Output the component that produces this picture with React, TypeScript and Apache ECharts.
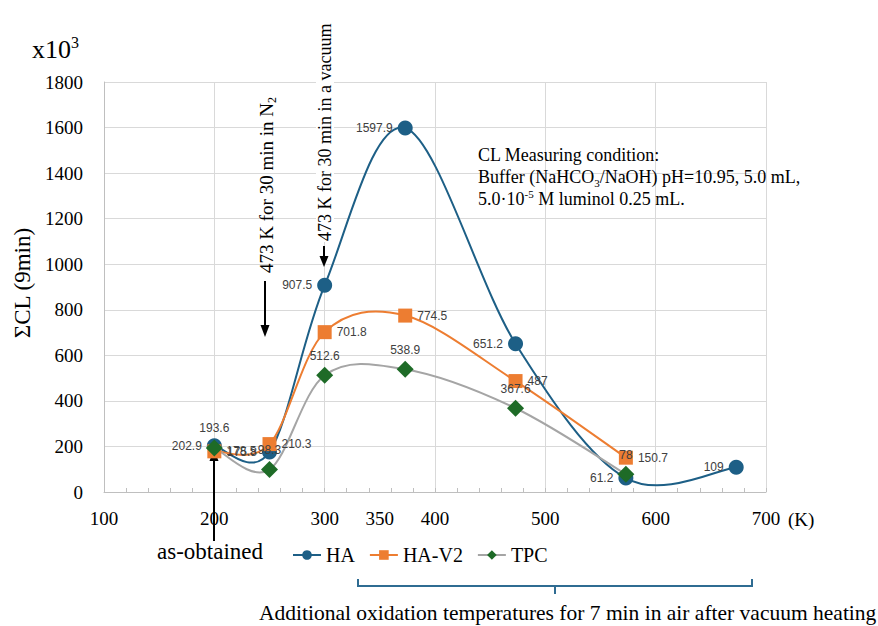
import React, { useEffect, useRef } from 'react';
import * as echarts from 'echarts';

// ---- data ----
const haTemps = [200, 250, 300, 373, 473, 573, 673];
const haValues = [202.9, 175.8, 907.5, 1597.9, 651.2, 61.2, 109];
const haV2Temps = [200, 250, 300, 373, 473, 573];
const haV2Values = [178.5, 210.3, 701.8, 774.5, 487, 150.7];
const tpcTemps = [200, 250, 300, 373, 473, 573];
const tpcValues = [193.6, 98.3, 512.6, 538.9, 367.6, 78];
const seriesNames = ['HA', 'HA-V2', 'TPC'];
const extraXTick = 350;

const SERIF = "'Liberation Serif', 'Times New Roman', serif";
const SANS = "'Liberation Sans', Arial, sans-serif";
const BLUE = '#1d5f86';
const ORANGE = '#ed7d31';
const GRAY = '#a5a5a5';
const GREEN = '#1e6b27';

function pairs(xs: number[], ys: number[]) {
  return xs.map((x, i) => [x, ys[i]]);
}

function dataLabel(pos: string) {
  return {
    show: true,
    position: pos,
    distance: 5,
    fontSize: 12,
    fontFamily: SANS,
    color: '#404040',
    formatter: (p: any) => String(p.value[1]),
  };
}

// Smoothed (cardinal spline) curve through the data points, drawn through the axis scales
function curveSeries(xs: number[], ys: number[], color: string) {
  const data = pairs(xs, ys);
  const n = data.length;
  return {
    type: 'custom',
    silent: true,
    encode: { x: 0, y: 1 },
    data,
    renderItem: (params: any, api: any) => {
      const i = params.dataIndex;
      if (i >= n - 1) return { type: 'group', children: [] };
      const pt = (k: number) => api.coord(data[Math.max(0, Math.min(n - 1, k))]);
      const p0 = pt(i - 1);
      const p1 = pt(i);
      const p2 = pt(i + 1);
      const p3 = pt(i + 2);
      const t = 1 / 6;
      return {
        type: 'bezierCurve',
        shape: {
          x1: p1[0],
          y1: p1[1],
          x2: p2[0],
          y2: p2[1],
          cpx1: p1[0] + (p2[0] - p0[0]) * t,
          cpy1: p1[1] + (p2[1] - p0[1]) * t,
          cpx2: p2[0] - (p3[0] - p1[0]) * t,
          cpy2: p2[1] - (p3[1] - p1[1]) * t,
        },
        style: { stroke: color, lineWidth: 2, fill: null },
      };
    },
  };
}

function arrow(x1: number, y1: number, x2: number, y2: number, head = 12, half = 4.5, z = 100) {
  const dx = x2 - x1;
  const dy = y2 - y1;
  const len = Math.sqrt(dx * dx + dy * dy);
  const ux = dx / len;
  const uy = dy / len;
  const bx = x2 - ux * head;
  const by = y2 - uy * head;
  return [
    {
      type: 'line',
      z,
      shape: { x1, y1, x2: bx, y2: by },
      style: { stroke: '#000', lineWidth: 2 },
    },
    {
      type: 'polygon',
      z,
      shape: {
        points: [
          [x2, y2],
          [bx - uy * half, by + ux * half],
          [bx + uy * half, by - ux * half],
        ],
      },
      style: { fill: '#000' },
    },
  ];
}

export default function App() {
  const ref = useRef<HTMLDivElement>(null);
  useEffect(() => {
    document.body.style.margin = '0';
    const chart = echarts.init(ref.current!, null, { renderer: 'svg' });
    const lineColors = [BLUE, ORANGE, GRAY];
    const markColors = [BLUE, ORANGE, GREEN];
    const option: any = {
      animation: false,
      backgroundColor: '#fff',
      grid: { left: 104, top: 82, width: 662, height: 410 },
      legend: {
        left: 287,
        top: 540,
        itemWidth: 28,
        itemHeight: 12,
        itemGap: 14,
        textStyle: { fontFamily: SERIF, fontSize: 20, color: '#000' },
        data: seriesNames.map((name, i) => ({
          name,
          lineStyle: { color: lineColors[i], width: 2, opacity: 1 },
          itemStyle: { color: markColors[i], opacity: 1 },
        })),
      },
      xAxis: [
        {
          type: 'value',
          min: 100,
          max: 700,
          interval: 100,
          axisLine: { show: true, lineStyle: { color: '#bfbfbf', width: 1 } },
          axisTick: { show: true, inside: true, length: 4, lineStyle: { color: '#bfbfbf' } },
          minorTick: { show: true, splitNumber: 5, length: 4, lineStyle: { color: '#bfbfbf' } },
          splitLine: { show: true, lineStyle: { color: '#d9d9d9', width: 1 } },
          axisLabel: { fontFamily: SERIF, fontSize: 19, color: '#000', margin: 17, formatter: (v: number) => String(v) },
        },
        {
          type: 'value',
          position: 'bottom',
          offset: 0,
          min: 100,
          max: 700,
          interval: 50,
          axisLine: { show: false },
          axisTick: { show: false },
          splitLine: { show: false },
          axisLabel: {
            fontFamily: SERIF,
            fontSize: 19,
            color: '#000',
            margin: 17,
            formatter: (v: number) => (v === extraXTick ? String(v) : ''),
          },
        },
      ],
      yAxis: {
        type: 'value',
        min: 0,
        max: 1800,
        interval: 200,
        axisLine: { show: true, lineStyle: { color: '#bfbfbf', width: 1 } },
        axisTick: { show: false },
        splitLine: { show: true, lineStyle: { color: '#d9d9d9', width: 1 } },
        axisLabel: { fontFamily: SERIF, fontSize: 19, color: '#000', margin: 21, formatter: (v: number) => String(v) },
      },
      series: [
        curveSeries(haTemps, haValues, BLUE),
        {
          name: seriesNames[0],
          type: 'line',
          symbol: 'circle',
          symbolSize: 15,
          lineStyle: { color: BLUE, width: 2, opacity: 0 },
          itemStyle: { color: BLUE },
          label: dataLabel('left'),
          data: pairs(haTemps, haValues),
        },
        curveSeries(haV2Temps, haV2Values, ORANGE),
        {
          name: seriesNames[1],
          type: 'line',
          symbol: 'rect',
          symbolSize: 14,
          lineStyle: { color: ORANGE, width: 2, opacity: 0 },
          itemStyle: { color: ORANGE },
          label: dataLabel('right'),
          data: pairs(haV2Temps, haV2Values),
        },
        curveSeries(tpcTemps, tpcValues, GRAY),
        {
          name: seriesNames[2],
          type: 'line',
          symbol: 'diamond',
          symbolSize: 17,
          lineStyle: { color: GRAY, width: 2, opacity: 0 },
          itemStyle: { color: GREEN },
          label: dataLabel('top'),
          data: pairs(tpcTemps, tpcValues),
        },
      ],
      graphic: [
        {
          type: 'text',
          x: 32,
          y: 49,
          z: 100,
          style: {
            text: '{a|x10}{s|3}',
            align: 'left',
            verticalAlign: 'middle',
            rich: {
              a: { fontFamily: SERIF, fontSize: 26, fill: '#000', lineHeight: 30 },
              s: { fontFamily: SERIF, fontSize: 16, fill: '#000', verticalAlign: 'top', lineHeight: 30 },
            },
          },
        },
        {
          type: 'text',
          x: 22,
          y: 283,
          z: 100,
          rotation: Math.PI / 2,
          style: {
            text: 'ΣCL (9min)',
            fontFamily: SERIF,
            fontSize: 23,
            fill: '#000',
            align: 'center',
            verticalAlign: 'middle',
          },
        },
        {
          type: 'text',
          x: 788,
          y: 519,
          z: 100,
          style: {
            text: '(K)',
            fontFamily: SERIF,
            fontSize: 19,
            fill: '#000',
            align: 'left',
            verticalAlign: 'middle',
          },
        },
        {
          type: 'text',
          x: 266,
          y: 273,
          z: 100,
          rotation: Math.PI / 2,
          style: {
            text: '{a|473 K for 30 min in N}{s|2}',
            align: 'left',
            verticalAlign: 'middle',
            rich: {
              a: { fontFamily: SERIF, fontSize: 19, fill: '#000', lineHeight: 24 },
              s: { fontFamily: SERIF, fontSize: 12, fill: '#000', verticalAlign: 'bottom', lineHeight: 24 },
            },
          },
        },
        {
          type: 'rect',
          z: 99,
          shape: { x: 316, y: 82, width: 18, height: 160 },
          style: { fill: '#fff' },
        },
        {
          type: 'text',
          x: 325,
          y: 241,
          z: 100,
          rotation: Math.PI / 2,
          style: {
            text: '473 K for 30 min in a vacuum',
            fontFamily: SERIF,
            fontSize: 18,
            fill: '#000',
            align: 'left',
            verticalAlign: 'middle',
          },
        },
        ...arrow(265, 281, 265, 337),
        ...arrow(324, 246, 324, 267, 11, 4.5),
        ...arrow(214, 541, 214, 449, 12, 4.5, 1),
        {
          type: 'text',
          x: 478,
          y: 144,
          z: 100,
          style: {
            text:
              '{a|CL Measuring condition:}\n{a|Buffer (NaHCO}{b|3}{a|/NaOH) pH=10.95, 5.0 mL,}\n{a|5.0·10}{p|-5}{a| M luminol 0.25 mL.}',
            align: 'left',
            verticalAlign: 'top',
            rich: {
              a: { fontFamily: SERIF, fontSize: 18, fill: '#000', lineHeight: 22 },
              b: { fontFamily: SERIF, fontSize: 11, fill: '#000', verticalAlign: 'bottom', lineHeight: 22 },
              p: { fontFamily: SERIF, fontSize: 11, fill: '#000', verticalAlign: 'top', lineHeight: 22 },
            },
          },
        },
        {
          type: 'text',
          x: 157,
          y: 551,
          z: 100,
          style: {
            text: 'as-obtained',
            fontFamily: SERIF,
            fontSize: 23,
            fill: '#000',
            align: 'left',
            verticalAlign: 'middle',
          },
        },
        {
          type: 'polyline',
          z: 100,
          shape: { points: [[358, 579], [358, 586], [752, 586], [752, 579]] },
          style: { stroke: '#2f6c92', lineWidth: 2, fill: null },
        },
        {
          type: 'line',
          z: 100,
          shape: { x1: 555, y1: 586, x2: 555, y2: 594 },
          style: { stroke: '#2f6c92', lineWidth: 2 },
        },
        {
          type: 'text',
          x: 259,
          y: 613,
          z: 100,
          style: {
            text: 'Additional oxidation temperatures for 7 min in air after vacuum heating',
            fontFamily: SERIF,
            fontSize: 21.5,
            fill: '#000',
            align: 'left',
            verticalAlign: 'middle',
          },
        },
      ],
    };
    chart.setOption(option);
    return () => chart.dispose();
  }, []);
  return <div ref={ref} style={{ width: 878, height: 626 }} />;
}
